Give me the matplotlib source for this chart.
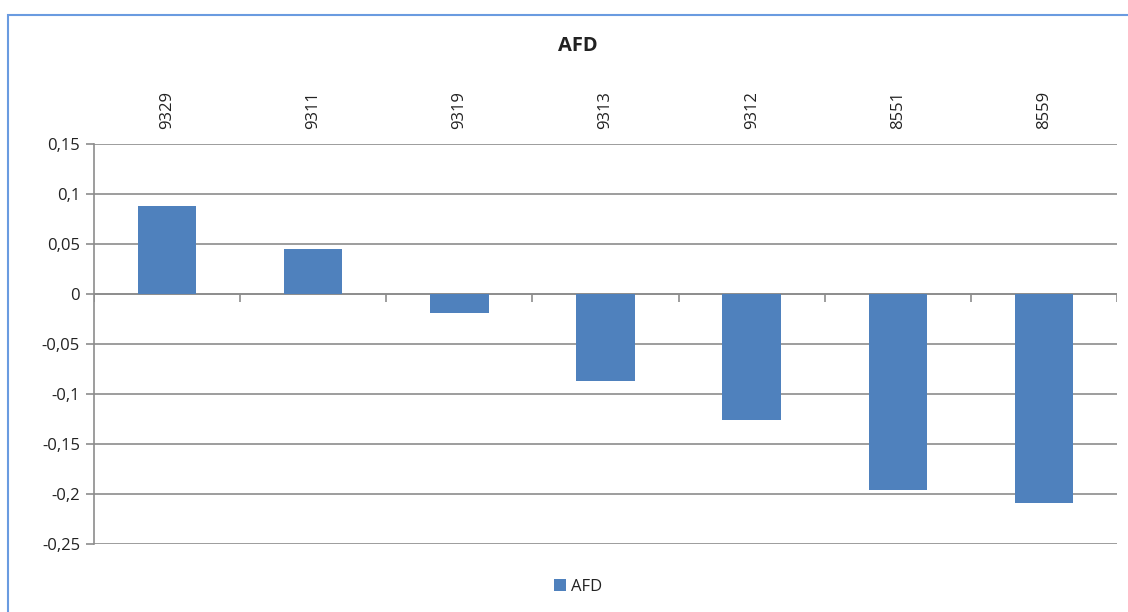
import matplotlib.pyplot as plt
from matplotlib.patches import Rectangle

# data
categories = ["9329", "9311", "9319", "9313", "9312", "8551", "8559"]
afd = [0.088, 0.045, -0.019, -0.087, -0.126, -0.196, -0.209]
y_ticks = [0.15, 0.1, 0.05, 0, -0.05, -0.1, -0.15, -0.2, -0.25]
y_labels = ["0,15", "0,1", "0,05", "0", "-0,05", "-0,1", "-0,15", "-0,2", "-0,25"]

plt.rcParams['font.family'] = ['Open Sans', 'DejaVu Sans']

bar_color = '#4F81BD'
grid_color = '#8C8C8C'
text_color = '#222222'

fig = plt.figure(figsize=(11.28, 6.12), dpi=100)
ax = fig.add_axes([94 / 1128, 1 - 544 / 612, (1117 - 94) / 1128, 400 / 612])

x = list(range(len(categories)))
ax.bar(x, afd, width=0.4, color=bar_color, label="AFD", zorder=3)

ax.set_xlim(-0.5, len(categories) - 0.5)
ax.set_ylim(-0.25, 0.15)
ax.set_yticks(y_ticks)
ax.set_yticklabels(y_labels)
ax.yaxis.grid(True, color=grid_color, linewidth=1.2, zorder=0)
ax.tick_params(axis='y', length=6, width=1.2, color=grid_color, labelsize=12,
               labelcolor=text_color, pad=4)

# category labels on top, rotated
ax.xaxis.tick_top()
ax.set_xticks(x)
ax.set_xticklabels(categories, rotation=90, fontsize=12, color=text_color)
ax.tick_params(axis='x', length=0, pad=11)

# category axis drawn at zero with boundary tick marks
ax.axhline(0, color=grid_color, linewidth=1.2, zorder=2)
bounds = [i - 0.5 for i in range(len(categories) + 1)]
ax.vlines(bounds, -0.0075, 0, color=grid_color, linewidth=1.2, zorder=2)

for side in ['top', 'right', 'bottom']:
    ax.spines[side].set_visible(False)
ax.spines['left'].set_color(grid_color)
ax.spines['left'].set_linewidth(1.2)

fig.text(578 / 1128, 1 - 46 / 612, "AFD", ha='center', va='center',
         fontsize=14.5, fontweight='bold', color=text_color)

fig.legend(loc='center', bbox_to_anchor=(578 / 1128, 1 - 587 / 612), frameon=False,
           fontsize=12, handlelength=0.7, handleheight=0.7, handletextpad=0.3,
           labelcolor=text_color)

# chart frame (only left and top edges visible in the crop)
fig.add_artist(Rectangle((8 / 1128, -0.1), 1.2, 1 - 15 / 612 + 0.1,
                         transform=fig.transFigure, fill=False,
                         edgecolor='#6A9BE0', linewidth=1.5, clip_on=False))

fig.savefig("out.png", dpi=100, facecolor='white')
